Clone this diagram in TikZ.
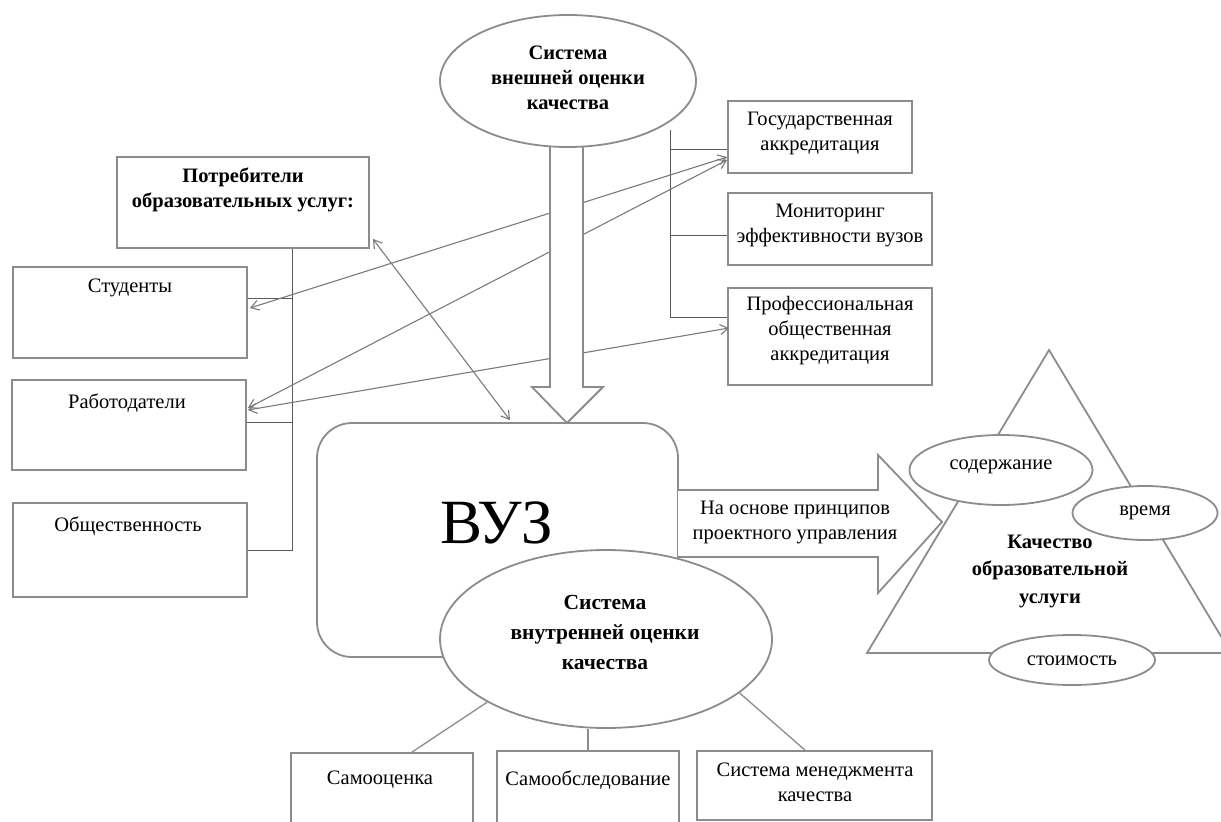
\documentclass[tikz,border=0pt]{standalone}
\usepackage{fontspec}
\setmainfont{Liberation Serif}
\usetikzlibrary{shapes.geometric,arrows.meta,calc}
\definecolor{boxgray}{HTML}{8C8C8C}
\definecolor{linegray}{HTML}{7A7A7A}
\definecolor{brkgray}{HTML}{5A5A5A}
\begin{document}
\begin{tikzpicture}[x=1pt,y=-1pt,
  box/.style={draw=boxgray, line width=1.8pt, fill=white, inner sep=0pt, rectangle},
  ell/.style={draw=boxgray, line width=1.8pt, fill=white, inner sep=0pt, ellipse},
  txt/.style={font=\fontsize{20.5}{25}\selectfont, align=center, inner sep=0pt},
  btxt/.style={font=\bfseries\fontsize{20.5}{25}\selectfont, align=center, inner sep=0pt},
  conn/.style={draw=linegray, line width=1.1pt, {Straight Barb[length=8pt,width=10pt]}-{Straight Barb[length=8pt,width=10pt]}},
  brk/.style={draw=brkgray, line width=0.9pt},
  link/.style={draw=boxgray, line width=1.3pt},
  blockarrow/.style={draw=boxgray, line width=1.8pt, fill=white, line join=miter}
]
\useasboundingbox (0,0) rectangle (1221,822);
\fill[white] (0,0) rectangle (1221,822);

% left boxes
\node[box, minimum width=252pt, minimum height=91pt] (potr) at (243,202.5) {};
\node[btxt] (potrT) at (243,190) {Потребители\\образовательных услуг:};
\node[box, minimum width=234pt, minimum height=91pt] (stud) at (130,312.5) {};
\node[txt] (studT) at (130,288) {Студенты};
\node[box, minimum width=234pt, minimum height=90pt] (rab) at (129,425) {};
\node[txt] (rabT) at (127,403) {Работодатели};
\node[box, minimum width=234pt, minimum height=94pt] (obsh) at (130,550) {};
\node[txt] (obshT) at (128,526) {Общественность};

% right boxes
\node[box, minimum width=184pt, minimum height=72pt] (gos) at (820,137) {};
\node[txt] (gosT) at (820,133) {Государственная\\аккредитация};
\node[box, minimum width=204pt, minimum height=72pt] (mon) at (830,229) {};
\node[txt] (monT) at (830,225) {Мониторинг\\эффективности вузов};
\node[box, minimum width=204pt, minimum height=97pt] (prof) at (830,336.5) {};
\node[txt] (profT) at (830,331) {Профессиональная\\общественная\\аккредитация};

% brackets
\coordinate (rb) at (670,130);
\draw[brk] (rb) |- ($(prof.west)+(0,-19.5)$);
\draw[brk] ($(gos.west)+(0,12)$) -| (rb);
\draw[brk] ($(mon.west)+(0,6)$) -| (rb);
\coordinate (lb) at ($(potr.south)+(49,0)$);
\draw[brk] (lb) |- (obsh.east);
\draw[brk] ($(stud.east)+(0,-14.5)$) -| (lb);
\draw[brk] ($(rab.east)+(0,-3)$) -| (lb);

% VUZ box
\node[draw=boxgray, line width=1.8pt, fill=white, rounded corners=35pt, minimum width=361pt, minimum height=234pt, inner sep=0pt] (vuz) at (497.5,540) {};
\node[font=\fontsize{63}{63}\selectfont, inner sep=0pt] (vuzT) at (497,523) {ВУЗ};

% arrows between nodes
\draw[conn] ($(potr.south east)+(3,-10)$) -- ($(vuz.north)+(12.5,-2)$);
\draw[conn] ($(stud.east)+(2,-4.5)$) -- ($(gos.west)+(0,20)$);
\draw[conn] ($(rab.east)+(1,-17)$) -- ($(gos.west)+(0,23)$);
\draw[conn] ($(rab.east)+(1,-15)$) -- ($(prof.west)+(2,-8.5)$);

% downward block arrow
\draw[blockarrow] (550,138) -- (583,138) -- (583,387) -- (603,387) -- (567,423) -- (532,387) -- (550,387) -- cycle;

% top ellipse
\node[ell, minimum width=256pt, minimum height=132pt] (top) at (568,81) {};
\node[btxt] (topT) at (568,78) {Система\\внешней оценки\\качества};

% right block arrow
\path[blockarrow] (678,490) -- (878,490) -- (878,455) -- (942,522) -- (878,593) -- (878,557) -- (678,557);
\node[txt] (arrT) at (795,522.5) {На основе принципов\\проектного управления};

% inner ellipse
\node[ell, minimum width=332pt, minimum height=178pt] (inner) at (606,639) {};
\node[font=\bfseries\fontsize{21.5}{30}\selectfont, align=center, inner sep=0pt] (innerT) at (605,632) {Система\\внутренней оценки\\качества};

% bottom boxes
\node[box, minimum width=182pt, minimum height=97pt] (samoc) at (382,801.5) {};
\node[txt] (samocT) at (380,780) {Самооценка};
\node[box, minimum width=182pt, minimum height=99pt] (samob) at (588,800.5) {};
\node[txt] (samobT) at (588,780) {Самообследование};
\node[box, minimum width=235pt, minimum height=69pt] (smk) at (814.5,785.5) {};
\node[txt] (smkT) at (815,782) {Система менеджмента\\качества};

\draw[link] (inner.208) -- ($(samoc.north)+(30,0)$);
\draw[link] (samob.north |- inner.south) -- (samob.north);
\draw[link] (inner.-22) -- ($(smk.north)+(-9.5,0)$);

% triangle
\coordinate (tA) at (1049,350);
\coordinate (tB) at (867,653);
\coordinate (tC) at (1231,653);
\draw[draw=boxgray, line width=1.8pt, line join=miter] (tA) -- (tB) -- (tC) -- cycle;
\node[font=\bfseries\fontsize{20.5}{27.5}\selectfont, align=center, inner sep=0pt] (qT) at (1050,571) {Качество\\образовательной\\услуги};
\node[ell, minimum width=183pt, minimum height=70pt] (sod) at (1001,470) {};
\node[txt] (sodT) at (1001,467) {содержание};
\node[ell, minimum width=145pt, minimum height=54pt] (vrem) at (1145,513) {};
\node[txt] (vremT) at (1145,513) {время};
\node[ell, minimum width=166pt, minimum height=50pt] (stoim) at (1072,660) {};
\node[txt] (stoimT) at (1072,661) {стоимость};
\end{tikzpicture}
\end{document}
